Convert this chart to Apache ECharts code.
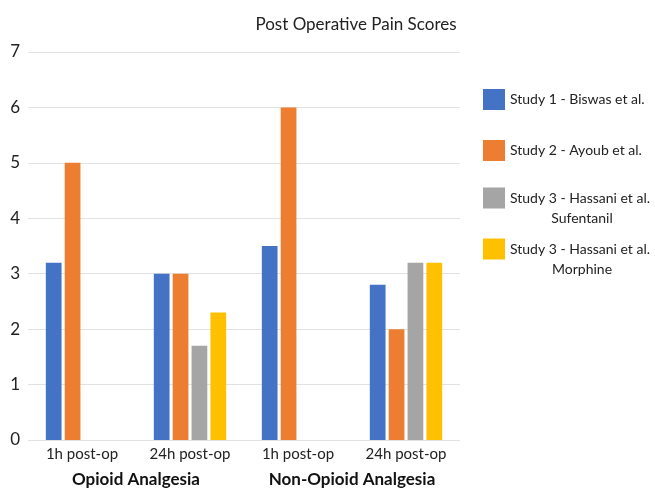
<!DOCTYPE html>
<html>
<head>
<meta charset="utf-8">
<script src="https://cdn.jsdelivr.net/npm/echarts@6/dist/echarts.min.js"></script>
<style>
  html, body { margin: 0; padding: 0; background: #fff; overflow: hidden; }
  #chart { width: 655px; height: 488px; }
</style>
</head>
<body>
<div id="chart"></div>
<script>
// Time points within each analgesia group
const categories = ['1h post-op', '24h post-op', '1h post-op', '24h post-op'];
const groups = ['Opioid Analgesia', 'Non-Opioid Analgesia'];

// Pain scores per study (null = not reported)
const biswas = [3.2, 3.0, 3.5, 2.8];
const ayoub = [5.0, 3.0, 6.0, 2.0];
const hassaniSufentanil = [null, 1.7, null, 3.2];
const hassaniMorphine = [null, 2.3, null, 3.2];

const yTicks = [0, 1, 2, 3, 4, 5, 6, 7];

const FONT = 'Lato';
const colors = ['#4472C4', '#ED7D31', '#A5A5A5', '#FFC000'];
const seriesNames = [
  'Study 1 - Biswas et al.',
  'Study 2 - Ayoub et al.',
  'Study 3 - Hassani et al. Sufentanil',
  'Study 3 - Hassani et al. Morphine'
];
const seriesData = [biswas, ayoub, hassaniSufentanil, hassaniMorphine];

const chart = echarts.init(document.getElementById('chart'));

// one legend block per study, stacked on the right
const legendCenters = [94, 145, 196, 247];
function legendFor(i) {
  const twoLine = i >= 2;
  return {
    data: [seriesNames[i]],
    orient: 'vertical',
    left: 478,
    top: twoLine ? legendCenters[i] - 30 : legendCenters[i] - 10,
    itemWidth: 22,
    itemHeight: 21,
    icon: 'rect',
    selectedMode: false,
    formatter: function (name) {
      if (!twoLine) return '{a|' + name + '}';
      const sub = name.replace('Study 3 - Hassani et al. ', '');
      return '{e| }\n{a|Study 3 - Hassani et al.}\n{b|' + sub + '}';
    },
    textStyle: {
      fontFamily: FONT,
      fontSize: 14,
      color: '#222',
      rich: {
        e: { fontSize: 14, lineHeight: 20, fontFamily: FONT },
        a: { fontSize: 14, lineHeight: 20, fontFamily: FONT, color: '#222' },
        b: { fontSize: 14, lineHeight: 20, fontFamily: FONT, color: '#222', width: 144, align: 'center' }
      }
    }
  };
}

chart.setOption({
  animation: false,
  backgroundColor: '#ffffff',
  color: colors,
  title: {
    text: 'Post Operative Pain Scores',
    left: 351,
    top: 11,
    textAlign: 'center',
    textStyle: { fontFamily: FONT, fontSize: 17, fontWeight: 'normal', color: '#222' }
  },
  legend: [0, 1, 2, 3].map(legendFor),
  grid: { left: 28, right: 195, top: 52, bottom: 43, containLabel: false },
  xAxis: [
    {
      type: 'category',
      data: categories,
      axisLine: { show: false },
      axisTick: { show: false },
      axisLabel: { fontFamily: FONT, fontSize: 15, color: '#222', margin: 7, interval: 0 }
    },
    {
      type: 'category',
      data: groups,
      position: 'bottom',
      offset: 24,
      axisLine: { show: false },
      axisTick: { show: false },
      axisLabel: { fontFamily: FONT, fontSize: 17, fontWeight: 'bold', color: '#111', margin: 7, interval: 0 }
    }
  ],
  yAxis: {
    type: 'value',
    min: yTicks[0],
    max: yTicks[yTicks.length - 1],
    interval: 1,
    axisLine: { show: false },
    axisTick: { show: false },
    axisLabel: { fontFamily: FONT, fontSize: 17, color: '#222', margin: 8 },
    splitLine: { lineStyle: { color: '#e2e2e2', width: 1 } }
  },
  series: seriesData.map(function (vals, i) {
    return {
      name: seriesNames[i],
      type: 'bar',
      xAxisIndex: 0,
      data: vals,
      barGap: '20%',
      barCategoryGap: '33%',
      itemStyle: { color: colors[i] }
    };
  })
});
</script>
</body>
</html>
